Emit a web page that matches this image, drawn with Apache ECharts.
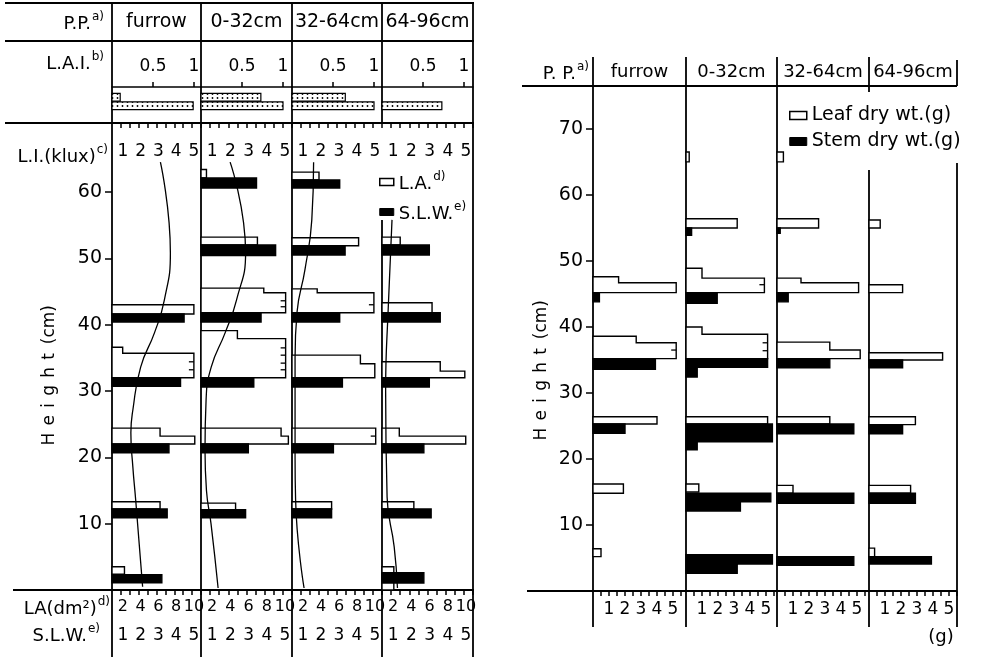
<!DOCTYPE html>
<html>
<head>
<meta charset="utf-8">
<title>Vertical profiles of leaf area, S.L.W. and dry weight</title>
<script src="https://cdn.jsdelivr.net/npm/echarts@6/dist/echarts.min.js"></script>
<style>
  html, body { margin: 0; padding: 0; background: #fff; }
  #chart { width: 982px; height: 659px; }
</style>
</head>
<body>
<div id="chart"></div>
<script>
// plant positions (columns of both panels)
var positions = ['furrow', '0-32cm', '32-64cm', '64-96cm'];

// L.A.I. strip in the header: upper and lower leaf layer
var laiUpper = [0.1, 0.73, 0.65, 0];
var laiLower = [0.99, 1.0, 1.0, 0.73];

// leaf area (dm2), each layer = steps [bottom cm, top cm, value]
var laFurrow = [[[2.4, 3.5, 1.4]], [[12.2, 13.3, 5.4]], [[22.0, 23.2, 9.3], [23.2, 24.4, 5.4]],
  [[32.0, 35.7, 9.2], [35.7, 36.6, 1.2]], [[41.6, 43.0, 9.2]]];
var la0_32 = [[[12.1, 13.1, 3.8]], [[22.0, 23.2, 9.6], [23.2, 24.4, 8.8]], [[32.0, 37.9, 9.3], [37.9, 39.1, 4.0]],
  [[41.8, 44.8, 9.3], [44.8, 45.5, 6.9]], [[52.0, 53.2, 6.2]], [[62.1, 63.4, 0.6]]];
var la32_64 = [[[12.2, 13.3, 4.4]], [[22.0, 24.4, 9.3]], [[32.0, 34.1, 9.2], [34.1, 35.4, 7.6]],
  [[41.8, 44.8, 9.1], [44.8, 45.4, 2.8]], [[51.9, 53.1, 7.4]], [[61.8, 63.0, 3.0]]];
var la64_96 = [[[0.0, 3.5, 1.3]], [[12.2, 13.3, 3.5]], [[22.0, 23.2, 9.2], [23.2, 24.4, 1.9]],
  [[32.0, 33.0, 9.1], [33.0, 34.4, 6.4]], [[41.8, 43.3, 5.5]], [[52.0, 53.2, 2.0]]];

// overlapping leaves marked at the end of a leaf-area bar: [height cm, value]
var laCombs = [[[34.4, 9.2], [33.2, 9.2]],
  [[43.6, 9.3], [42.7, 9.3], [36.5, 9.3], [35.4, 9.3], [34.2, 9.3], [33.2, 9.3]],
  [[43.0, 9.1], [23.2, 9.3]], []];

// specific leaf weight
var slwFurrow = [[[1.1, 2.3, 2.8]], [[10.9, 12.2, 3.1]], [[20.7, 22.0, 3.2]], [[30.7, 32.0, 3.85]], [[40.4, 41.6, 4.05]]];
var slw0_32 = [[[10.9, 12.1, 2.45]], [[20.7, 22.0, 2.6]], [[30.6, 32.0, 2.9]], [[40.4, 41.8, 3.3]], [[50.4, 52.0, 4.1]], [[60.6, 62.1, 3.05]]];
var slw32_64 = [[[10.9, 12.2, 2.2]], [[20.7, 22.0, 2.3]], [[30.6, 32.0, 2.8]], [[40.4, 41.8, 2.65]], [[50.5, 51.9, 2.95]], [[60.6, 61.8, 2.65]]];
var slw64_96 = [[[1.05, 2.6, 2.3]], [[10.9, 12.2, 2.7]], [[20.7, 22.0, 2.3]], [[30.6, 32.0, 2.6]], [[40.4, 41.8, 3.2]], [[50.5, 52.0, 2.6]]];

// light intensity (klux) against height (cm)
var liFurrow = [[2.72, 64.5], [3.28, 50.8], [2.94, 43.7], [2.39, 38.8], [1.61, 33.6], [1.17, 27.1], [1.06, 23.7], [1.17, 18.6], [1.33, 13.6], [1.72, 0.5]];
var li0_32 = [[1.6, 64.5], [2.45, 50.8], [1.95, 43.7], [1.33, 38.8], [0.56, 33.6], [0.28, 28.7], [0.22, 21.1], [0.3, 15.0], [0.55, 10.0], [0.94, 0.3]];
var li32_64 = [[1.2, 64.5], [1.1, 55.8], [0.72, 48.3], [0.28, 41.9], [0.17, 35.0], [0.17, 20.0], [0.2, 13.6], [0.67, 0.3]];
var li64_96 = [[0.55, 55.8], [0.35, 43.0], [0.2, 30.0], [0.28, 14.0], [0.67, 6.5], [0.85, 0.3]];

// leaf dry weight (g)
var leafFurrow = [[[5.2, 6.4, 0.5]], [[14.8, 16.2, 1.9]], [[25.3, 26.4, 4.0]], [[35.2, 37.6, 5.2], [37.6, 38.6, 2.7]], [[45.2, 46.7, 5.2], [46.7, 47.6, 1.6]]];
var leaf0_32 = [[[15.0, 16.2, 0.8]], [[25.3, 26.4, 5.1]], [[35.2, 38.9, 5.1], [38.9, 40.0, 1.0]], [[45.2, 47.4, 4.9], [47.4, 48.9, 1.0]], [[55.0, 56.4, 3.2]], [[65.0, 66.5, 0.2]]];
var leaf32_64 = [[[14.8, 16.0, 1.0]], [[25.3, 26.4, 3.3]], [[35.2, 36.5, 5.2], [36.5, 37.7, 3.3]], [[45.2, 46.7, 5.1], [46.7, 47.4, 1.5]], [[55.0, 56.4, 2.6]], [[65.0, 66.5, 0.4]]];
var leaf64_96 = [[[5.2, 6.5, 0.35]], [[14.8, 16.0, 2.6]], [[25.2, 26.4, 2.9]], [[35.0, 36.1, 4.6]], [[45.2, 46.4, 2.1]], [[55.0, 56.2, 0.7]]];
var leafCombs = [[[36.5, 5.2]], [[46.4, 4.9], [37.6, 5.1], [36.4, 5.1]], [], []];

// stem dry weight (g)
var stemFurrow = [[[23.9, 25.3, 2.0]], [[33.6, 35.2, 3.9]], [[43.8, 45.2, 0.4]]];
var stem0_32 = [[[2.7, 4.1, 3.2], [4.1, 5.5, 5.4]], [[12.1, 13.5, 3.4], [13.5, 14.8, 5.3]], [[21.4, 22.6, 0.7], [22.6, 25.3, 5.4]],
  [[32.4, 33.9, 0.7], [33.9, 35.2, 5.1]], [[43.6, 45.2, 1.95]], [[53.9, 55.0, 0.35]]];
var stem32_64 = [[[3.9, 5.2, 4.8]], [[13.3, 14.8, 4.8]], [[23.8, 25.3, 4.8]], [[33.8, 35.2, 3.3]], [[43.8, 45.2, 0.7]], [[54.2, 55.0, 0.2]]];
var stem64_96 = [[[4.1, 5.2, 3.9]], [[13.3, 14.8, 2.9]], [[23.8, 25.2, 2.1]], [[33.8, 35.0, 2.1]]];

// tick labels
var heightTicksLeft = [10, 20, 30, 40, 50, 60];
var heightTicksRight = [10, 20, 30, 40, 50, 60, 70];
var liTicks = [1, 2, 3, 4, 5];
var laTicks = [2, 4, 6, 8, 10];
var slwTicks = [1, 2, 3, 4, 5];
var gTicks = [1, 2, 3, 4, 5];
var laiTicks = [0.5, 1];

var laLayers = [laFurrow, la0_32, la32_64, la64_96];
var slwLayers = [slwFurrow, slw0_32, slw32_64, slw64_96];
var liCurves = [liFurrow, li0_32, li32_64, li64_96];
var leafLayers = [leafFurrow, leaf0_32, leaf32_64, leaf64_96];
var stemLayers = [stemFurrow, stem0_32, stem32_64, stem64_96];

var FONT = 'DejaVu Sans';
var leftEdges = [112, 201, 292, 382, 473];
var rightEdges = [593, 686, 777, 869, 957];

// dotted fill for the L.A.I. strip
var dotCanvas = document.createElement('canvas');
dotCanvas.width = 5; dotCanvas.height = 4;
var dc = dotCanvas.getContext('2d');
dc.fillStyle = '#fff'; dc.fillRect(0, 0, 5, 4);
dc.fillStyle = '#000'; dc.beginPath(); dc.arc(2.5, 2, 0.9, 0, Math.PI * 2); dc.fill();
var dots = { image: dotCanvas, repeat: 'repeat' };

function stepShape(layers, fill) {
  return function (params, api) {
    var steps = layers[params.dataIndex];
    var pts = [api.coord([0, steps[0][0]])];
    for (var k = 0; k < steps.length; k++) {
      pts.push(api.coord([steps[k][2], steps[k][0]]));
      pts.push(api.coord([steps[k][2], steps[k][1]]));
    }
    pts.push(api.coord([0, steps[steps.length - 1][1]]));
    return { type: 'polygon', shape: { points: pts }, style: { fill: fill, stroke: '#000', lineWidth: 1.4 } };
  };
}
function layerData(layers) {
  return layers.map(function (l) { return [l[0][2], l[0][0]]; });
}
function combShape(params, api) {
  var p = api.coord([api.value(1), api.value(0)]);
  return { type: 'line', shape: { x1: p[0] - 5, y1: p[1], x2: p[0], y2: p[1] }, style: { stroke: '#000', lineWidth: 1.3 } };
}
function laiShape(params, api) {
  var p0 = api.coord([0, api.value(1)]);
  var p1 = api.coord([api.value(0), api.value(1)]);
  var h = api.size([0, 1])[1] * 0.9;
  return { type: 'rect', shape: { x: p0[0], y: p0[1] - h / 2, width: p1[0] - p0[0], height: h },
    style: { fill: dots, stroke: '#000', lineWidth: 1.2 } };
}
function range(a, b, s) { var r = []; for (var v = a; v <= b + 1e-9; v += s) r.push(+v.toFixed(2)); return r; }

var lbl = { color: '#000', fontFamily: FONT, fontSize: 17 };
var tk = { lineStyle: { color: '#000', width: 1.5 } };

var grid = [], xAxis = [], yAxis = [], series = [];
for (var i = 0; i < 4; i++) {
  grid.push({ left: leftEdges[i], top: 123, width: leftEdges[i + 1] - leftEdges[i], height: 467 });
}
for (i = 0; i < 4; i++) {
  grid.push({ left: leftEdges[i], top: 93, width: leftEdges[i + 1] - leftEdges[i], height: 17 });
}
for (i = 0; i < 4; i++) {
  grid.push({ left: rightEdges[i], top: 86, width: rightEdges[i + 1] - rightEdges[i], height: 505 });
}

for (i = 0; i < 4; i++) {
  // leaf area axis (bottom)
  xAxis.push({ type: 'value', gridIndex: i, position: 'bottom', min: 0, max: 10,
    axisLine: { show: false }, splitLine: { show: false },
    axisTick: Object.assign({ show: true, length: 5, customValues: range(1, 10, 1) }, tk),
    axisLabel: Object.assign({}, lbl, { fontSize: 16, customValues: laTicks, margin: 9, padding: [0, 14, 0, 0] }) });
  // S.L.W. axis (labels below)
  xAxis.push({ type: 'value', gridIndex: i, position: 'bottom', offset: 28, min: 0, max: 5,
    axisLine: { show: false }, axisTick: { show: false }, splitLine: { show: false },
    axisLabel: Object.assign({ customValues: slwTicks, margin: 9, padding: [0, 14, 0, 0] }, lbl) });
  // light intensity axis (top)
  xAxis.push({ type: 'value', gridIndex: i, position: 'top', min: 0, max: 5,
    axisLine: { show: false }, splitLine: { show: false },
    axisTick: Object.assign({ show: true, inside: true, length: 5, customValues: range(0.5, 5, 0.5) }, tk),
    axisLabel: Object.assign({ inside: true, customValues: liTicks, margin: 20, padding: [0, 14, 0, 0] }, lbl) });
  yAxis.push(i === 0 ? {
    type: 'value', gridIndex: 0, min: 0, max: 70.4, axisLine: { show: false }, splitLine: { show: false },
    axisTick: Object.assign({ show: true, length: 7, customValues: heightTicksLeft }, tk),
    axisLabel: Object.assign({}, lbl, { fontSize: 19, margin: 10, customValues: heightTicksLeft })
  } : { type: 'value', gridIndex: i, min: 0, max: 70.4, show: false });
}
for (i = 0; i < 4; i++) {
  xAxis.push({ type: 'value', gridIndex: 4 + i, position: 'top', offset: 6, min: 0,
    max: (leftEdges[i + 1] - leftEdges[i]) / 82,
    axisLine: { show: true, lineStyle: { color: '#000', width: 1.5 } }, splitLine: { show: false },
    axisTick: Object.assign({ show: true, length: 5, customValues: laiTicks }, tk),
    axisLabel: Object.assign({ customValues: laiTicks, margin: 12 }, lbl) });
  yAxis.push({ type: 'category', gridIndex: 4 + i, data: ['lower', 'upper'], show: false });
}
for (i = 0; i < 4; i++) {
  var gmax = (rightEdges[i + 1] - rightEdges[i]) / 16;
  xAxis.push({ type: 'value', gridIndex: 8 + i, position: 'bottom', min: 0, max: gmax,
    axisLine: { show: false }, splitLine: { show: false },
    axisTick: Object.assign({ show: true, length: 5, customValues: range(0.5, Math.floor(gmax * 2) / 2, 0.5) }, tk),
    axisLabel: Object.assign({ customValues: gTicks, margin: 10 }, lbl) });
  yAxis.push(i === 0 ? {
    type: 'value', gridIndex: 8, min: 0, max: 76.5, axisLine: { show: false }, splitLine: { show: false },
    axisTick: Object.assign({ show: true, length: 7, customValues: heightTicksRight }, tk),
    axisLabel: Object.assign({}, lbl, { fontSize: 19, margin: 10, customValues: heightTicksRight })
  } : { type: 'value', gridIndex: 8 + i, min: 0, max: 76.5, show: false });
}

for (i = 0; i < 4; i++) {
  series.push({ type: 'custom', name: 'L.A.', xAxisIndex: 3 * i, yAxisIndex: i,
    renderItem: stepShape(laLayers[i], '#fff'), data: layerData(laLayers[i]) });
  series.push({ type: 'custom', name: 'L.A. marks', xAxisIndex: 3 * i, yAxisIndex: i,
    renderItem: combShape, data: laCombs[i] });
  series.push({ type: 'custom', name: 'S.L.W.', xAxisIndex: 3 * i + 1, yAxisIndex: i,
    renderItem: stepShape(slwLayers[i], '#000'), data: layerData(slwLayers[i]) });
  series.push({ type: 'line', name: 'L.I.', xAxisIndex: 3 * i + 2, yAxisIndex: i, data: liCurves[i],
    smooth: 0.5, symbol: 'none', lineStyle: { color: '#000', width: 1.3 } });
  var laiData = [[laiLower[i], 0], [laiUpper[i], 1]].filter(function (d) { return d[0] > 0; });
  series.push({ type: 'custom', name: 'L.A.I.', xAxisIndex: 12 + i, yAxisIndex: 4 + i,
    renderItem: laiShape, data: laiData });
  series.push({ type: 'custom', name: 'Leaf dry wt.(g)', xAxisIndex: 16 + i, yAxisIndex: 8 + i,
    renderItem: stepShape(leafLayers[i], '#fff'), data: layerData(leafLayers[i]) });
  series.push({ type: 'custom', name: 'Leaf marks', xAxisIndex: 16 + i, yAxisIndex: 8 + i,
    renderItem: combShape, data: leafCombs[i] });
  series.push({ type: 'custom', name: 'Stem dry wt.(g)', xAxisIndex: 16 + i, yAxisIndex: 8 + i,
    renderItem: stepShape(stemLayers[i], '#000'), data: layerData(stemLayers[i]) });
}

// frame / table lines
var frameLines = [
  [5, 3, 474, 3], [5, 41, 474, 41], [5, 123, 474, 123], [13, 590, 474, 590],
  [112, 3, 112, 657], [201, 3, 201, 657], [292, 3, 292, 657], [382, 3, 382, 123], [382, 220, 382, 657], [473, 3, 473, 657],
  [522, 86, 957, 86], [527, 591, 957, 591],
  [593, 57, 593, 627], [686, 57, 686, 627], [777, 57, 777, 627], [869, 57, 869, 92], [869, 170, 869, 627],
  [957, 60, 957, 86], [957, 163, 957, 627]
];
var supRich = {
  n: { fontFamily: FONT, fontSize: 18, color: '#000', verticalAlign: 'bottom' },
  s: { fontFamily: FONT, fontSize: 12, color: '#000', padding: [0, 0, 10, 1], verticalAlign: 'bottom' }
};
var graphic = frameLines.map(function (l) {
  return { type: 'line', shape: { x1: l[0], y1: l[1], x2: l[2], y2: l[3] }, style: { stroke: '#000', lineWidth: 1.8 }, silent: true };
});
function supText(main, sup, x, y) {
  graphic.push({ type: 'text', x: x, y: y, silent: true,
    style: { text: '{n|' + main + '}{s|' + sup + '}', rich: supRich, align: 'right', verticalAlign: 'middle' } });
}
function plainText(t, x, y, size) {
  graphic.push({ type: 'text', x: x, y: y, silent: true,
    style: { text: t, fill: '#000', fontFamily: FONT, fontSize: size, align: 'center', verticalAlign: 'middle' } });
}
supText('P.P.', 'a)', 104, 22);
supText('L.A.I.', 'b)', 104, 62);
supText('L.I.(klux)', 'c)', 108, 155);
supText('LA(dm²)', 'd)', 110, 607);
supText('S.L.W.', 'e)', 100, 634);
supText('P. P.', 'a)', 589, 72);
for (i = 0; i < 4; i++) {
  plainText(positions[i], (leftEdges[i] + leftEdges[i + 1]) / 2, 22, 19);
  plainText(positions[i], (rightEdges[i] + rightEdges[i + 1]) / 2, 72, 18);
}
plainText('(g)', 941, 637, 18);
var heightTitle = 'Height'.split('').map(function (c) { return '{l|' + c + '}'; }).join('') + '{m| (cm)}';
[[50, 377], [542, 372]].forEach(function (p) {
  graphic.push({ type: 'text', x: p[0], y: p[1], rotation: Math.PI / 2, silent: true,
    style: { text: heightTitle, align: 'center', verticalAlign: 'middle',
      rich: { l: { fontFamily: FONT, fontSize: 17, color: '#000', padding: [0, 3.6] },
              m: { fontFamily: FONT, fontSize: 17, color: '#000' } } } });
});

var chart = echarts.init(document.getElementById('chart'));
chart.setOption({
  animation: false,
  backgroundColor: '#fff',
  grid: grid,
  xAxis: xAxis,
  yAxis: yAxis,
  legend: [{
    left: 374, top: 166, orient: 'vertical', itemWidth: 14, itemHeight: 7, itemGap: 8, selectedMode: false,
    data: [
      { name: 'L.A.', icon: 'rect', itemStyle: { color: '#fff', borderColor: '#000', borderWidth: 1.5 } },
      { name: 'S.L.W.', icon: 'rect', itemStyle: { color: '#000', borderColor: '#000', borderWidth: 1 } }
    ],
    formatter: function (name) { return name === 'L.A.' ? '{n|L.A.}{s|d)}' : '{n|S.L.W.}{s|e)}'; },
    textStyle: { rich: supRich }
  }, {
    left: 784, top: 101, orient: 'vertical', itemWidth: 17, itemHeight: 8, itemGap: 7, selectedMode: false,
    data: [
      { name: 'Leaf dry wt.(g)', icon: 'rect', itemStyle: { color: '#fff', borderColor: '#000', borderWidth: 1.5 } },
      { name: 'Stem dry wt.(g)', icon: 'rect', itemStyle: { color: '#000', borderColor: '#000', borderWidth: 1 } }
    ],
    textStyle: { color: '#000', fontFamily: FONT, fontSize: 19 }
  }],
  series: series,
  graphic: graphic
});
</script>
</body>
</html>
